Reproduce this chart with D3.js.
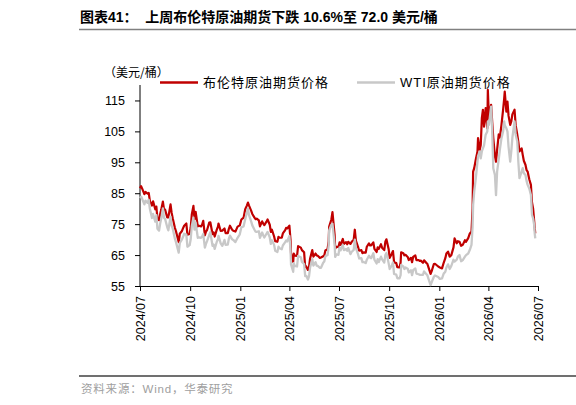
<!DOCTYPE html>
<html>
<head>
<meta charset="utf-8">
<script src="https://cdn.jsdelivr.net/npm/d3@7"></script>
<style>
  body { margin: 0; background: #fff; }
  svg { display: block; }
</style>
</head>
<body>
<div id="chart"></div>
<script>
// one line per month
const dates = [
  '2024-07-01','2024-07-03','2024-07-05','2024-07-09','2024-07-11','2024-07-15','2024-07-17','2024-07-19','2024-07-23','2024-07-25','2024-07-29','2024-07-31',
  '2024-08-02','2024-08-05','2024-08-07','2024-08-09','2024-08-12','2024-08-14','2024-08-16','2024-08-20','2024-08-22','2024-08-26','2024-08-28','2024-08-30',
  '2024-09-03','2024-09-05','2024-09-10','2024-09-12','2024-09-16','2024-09-18','2024-09-20','2024-09-24','2024-09-26','2024-09-30',
  '2024-10-02','2024-10-04','2024-10-07','2024-10-09','2024-10-11','2024-10-15','2024-10-17','2024-10-21','2024-10-23','2024-10-25','2024-10-28','2024-10-30',
  '2024-11-01','2024-11-05','2024-11-07','2024-11-11','2024-11-13','2024-11-15','2024-11-19','2024-11-21','2024-11-22','2024-11-26','2024-11-29',
  '2024-12-03','2024-12-05','2024-12-09','2024-12-11','2024-12-13','2024-12-17','2024-12-19','2024-12-23','2024-12-27','2024-12-31',
  '2025-01-03','2025-01-07','2025-01-10','2025-01-13','2025-01-15','2025-01-17','2025-01-21','2025-01-23','2025-01-27','2025-01-29','2025-01-31',
  '2025-02-04','2025-02-06','2025-02-10','2025-02-12','2025-02-14','2025-02-18','2025-02-20','2025-02-24','2025-02-26','2025-02-28',
  '2025-03-04','2025-03-06','2025-03-10','2025-03-12','2025-03-14','2025-03-18','2025-03-20','2025-03-24','2025-03-26','2025-03-28',
  '2025-04-01','2025-04-03','2025-04-04','2025-04-08','2025-04-09','2025-04-11','2025-04-15','2025-04-17','2025-04-22','2025-04-24','2025-04-28','2025-04-30',
  '2025-05-02','2025-05-05','2025-05-07','2025-05-09','2025-05-13','2025-05-15','2025-05-19','2025-05-21','2025-05-23','2025-05-27','2025-05-29',
  '2025-06-02','2025-06-04','2025-06-06','2025-06-10','2025-06-12','2025-06-13','2025-06-17','2025-06-19','2025-06-23','2025-06-24','2025-06-26','2025-06-30',
  '2025-07-02','2025-07-04','2025-07-08','2025-07-10','2025-07-14','2025-07-16','2025-07-18','2025-07-22','2025-07-24','2025-07-28','2025-07-30',
  '2025-08-01','2025-08-05','2025-08-07','2025-08-11','2025-08-13','2025-08-15','2025-08-19','2025-08-21','2025-08-25','2025-08-27','2025-08-29',
  '2025-09-02','2025-09-04','2025-09-08','2025-09-10','2025-09-12','2025-09-16','2025-09-18','2025-09-22','2025-09-24','2025-09-26','2025-09-30',
  '2025-10-02','2025-10-06','2025-10-08','2025-10-10','2025-10-14','2025-10-16','2025-10-20','2025-10-22','2025-10-23','2025-10-27','2025-10-29','2025-10-31',
  '2025-11-04','2025-11-06','2025-11-10','2025-11-12','2025-11-14','2025-11-18','2025-11-20','2025-11-24','2025-11-26','2025-11-28',
  '2025-12-02','2025-12-04','2025-12-08','2025-12-10','2025-12-12','2025-12-16','2025-12-18','2025-12-22','2025-12-24','2025-12-30',
  '2026-01-02','2026-01-06','2026-01-09','2026-01-12','2026-01-14','2026-01-17','2026-01-20','2026-01-23','2026-01-27','2026-01-29',
  '2026-02-02','2026-02-04','2026-02-07','2026-02-10','2026-02-13','2026-02-17','2026-02-19','2026-02-23','2026-02-26',
  '2026-03-01','2026-03-03','2026-03-04','2026-03-06','2026-03-09','2026-03-12','2026-03-13','2026-03-16','2026-03-18','2026-03-20','2026-03-22','2026-03-24','2026-03-25','2026-03-27','2026-03-30','2026-03-31',
  '2026-04-02','2026-04-06','2026-04-08','2026-04-10','2026-04-13','2026-04-15','2026-04-17','2026-04-20','2026-04-22','2026-04-25','2026-04-28','2026-04-30',
  '2026-05-01','2026-05-04','2026-05-06','2026-05-08','2026-05-11','2026-05-13','2026-05-15','2026-05-19','2026-05-21','2026-05-24','2026-05-26','2026-05-28',
  '2026-06-01','2026-06-03','2026-06-05','2026-06-08','2026-06-10','2026-06-12','2026-06-15','2026-06-18','2026-06-20','2026-06-22','2026-06-24','2026-06-25','2026-06-26'
];

const brent = [
  86.6, 87.3, 86.5, 84.7, 85.4, 84.9, 85.1, 82.6, 81.0, 82.4, 79.8, 80.7,
  76.8, 76.3, 78.3, 79.7, 82.3, 79.8, 79.7, 77.2, 77.2, 81.4, 78.7, 76.9,
  73.8, 72.7, 69.2, 71.9, 72.8, 73.7, 74.5, 75.2, 71.6, 71.8,
  73.9, 78.1, 80.9, 76.6, 79.0, 74.3, 74.5, 74.3, 74.9, 76.1, 71.4, 72.6,
  73.1, 75.5, 75.6, 71.8, 72.3, 71.0, 73.3, 74.2, 75.2, 72.8, 72.9,
  73.6, 72.1, 72.1, 73.5, 74.5, 73.2, 72.9, 72.6, 74.2, 74.6,
  76.5, 77.1, 79.8, 81.0, 82.0, 81.0, 79.3, 78.3, 77.1, 76.6, 76.8,
  76.2, 74.3, 75.9, 75.2, 74.7, 75.8, 76.5, 74.8, 72.5, 73.2,
  71.0, 69.5, 69.3, 70.9, 70.6, 70.6, 72.0, 73.0, 73.8, 73.6,
  74.5, 70.1, 65.6, 62.8, 65.5, 64.8, 64.7, 67.9, 67.4, 66.6, 65.9, 61.1,
  61.3, 60.2, 61.1, 63.9, 66.6, 64.5, 65.5, 64.9, 64.8, 64.1, 64.2,
  64.6, 64.9, 66.5, 66.9, 69.4, 74.2, 76.5, 78.9, 71.5, 67.1, 67.7, 67.6,
  69.1, 68.3, 70.2, 68.6, 69.2, 68.5, 69.3, 68.6, 69.2, 70.0, 73.2,
  69.7, 67.6, 66.4, 66.6, 65.6, 65.9, 65.8, 67.7, 68.8, 68.1, 68.1,
  69.1, 67.0, 66.0, 67.5, 67.0, 68.5, 67.4, 66.6, 69.3, 70.1, 67.0,
  64.1, 65.5, 66.3, 62.7, 62.4, 61.1, 61.0, 62.6, 65.9, 65.6, 64.9, 65.1,
  64.4, 63.4, 64.1, 62.7, 64.4, 64.9, 63.4, 63.4, 63.1, 63.2,
  62.5, 63.3, 62.5, 62.2, 61.1, 58.9, 59.8, 62.1, 62.2, 61.3,
  61.0, 60.7, 62.5, 64.0, 65.5, 66.1, 64.5, 65.0, 67.5, 70.4,
  68.8, 69.5, 69.3, 68.0, 68.3, 69.8, 69.3, 70.5, 72.0,
  72.6, 80.0, 92.0, 93.1, 96.0, 98.5, 102.8, 99.0, 100.6, 109.3, 112.0, 106.5, 108.2, 112.5, 106.0, 118.4,
  109.3, 113.6, 108.0, 102.8, 97.0, 95.2, 99.0, 104.0, 103.0, 107.1, 112.0, 115.7,
  117.9, 111.4, 114.6, 110.0, 107.1, 108.2, 110.5, 112.0, 107.0, 103.9, 101.5, 98.5,
  99.5, 97.4, 95.5, 94.2, 92.5, 92.0, 89.5, 87.7, 82.0, 80.1, 76.0, 73.7, 72.0
];

const wti = [
  83.4, 83.9, 83.2, 81.4, 82.6, 81.9, 82.9, 80.1, 77.0, 78.3, 75.8, 77.9,
  73.5, 72.9, 75.2, 76.8, 80.1, 77.0, 76.7, 74.0, 73.0, 77.4, 74.5, 73.6,
  70.3, 69.2, 65.8, 68.9, 70.1, 70.9, 71.9, 71.6, 67.7, 68.2,
  70.1, 74.4, 77.1, 73.2, 75.6, 70.6, 70.7, 70.6, 71.0, 71.8, 67.4, 68.6,
  69.5, 71.5, 72.4, 68.0, 68.4, 67.0, 69.4, 70.1, 71.2, 68.8, 68.0,
  69.9, 68.3, 68.4, 70.3, 71.3, 70.1, 69.9, 69.2, 70.6, 71.7,
  74.0, 74.3, 76.6, 78.8, 80.0, 77.9, 75.8, 74.6, 73.2, 72.6, 72.5,
  72.7, 70.6, 72.3, 71.4, 70.7, 71.9, 72.5, 70.7, 68.6, 69.8,
  68.3, 66.4, 66.0, 67.7, 67.2, 66.9, 68.1, 69.1, 69.7, 69.4,
  71.2, 66.9, 62.0, 59.6, 62.4, 61.5, 61.3, 64.7, 64.3, 62.8, 62.1, 58.2,
  58.3, 57.1, 58.1, 61.0, 63.7, 61.6, 62.7, 61.6, 61.5, 60.9, 60.9,
  62.5, 62.9, 64.6, 65.0, 68.0, 73.0, 74.8, 75.1, 68.5, 64.4, 65.2, 65.1,
  67.5, 66.5, 68.3, 66.6, 67.0, 66.4, 67.3, 65.3, 66.0, 66.7, 70.0,
  67.3, 65.2, 63.9, 64.0, 62.7, 62.8, 62.4, 63.5, 64.8, 64.2, 64.0,
  65.6, 63.5, 62.3, 63.7, 62.7, 64.5, 63.6, 62.6, 65.0, 65.7, 62.4,
  60.5, 61.7, 62.6, 58.9, 58.7, 57.5, 57.5, 58.5, 61.8, 61.3, 60.5, 61.0,
  60.6, 59.4, 60.1, 58.5, 60.1, 60.7, 59.0, 58.8, 58.6, 58.6,
  58.6, 59.7, 58.9, 58.5, 57.4, 55.3, 56.2, 58.0, 58.4, 57.9,
  57.3, 57.5, 59.0, 59.6, 61.0, 62.0, 60.5, 61.5, 63.5, 62.9,
  63.5, 64.5, 65.0, 63.0, 63.4, 64.5, 65.0, 65.5, 66.7,
  68.3, 74.0, 81.2, 85.5, 90.0, 95.2, 97.0, 98.5, 96.3, 98.5, 99.5, 100.5, 101.7, 103.9, 105.0, 108.2,
  107.1, 113.0, 104.9, 93.1, 90.9, 84.4, 92.0, 96.0, 99.0, 102.8, 105.0, 108.2,
  107.0, 106.0, 104.9, 100.0, 95.2, 98.5, 103.0, 108.2, 104.0, 101.7, 95.0, 89.9,
  92.0, 93.1, 91.5, 90.9, 89.0, 87.7, 86.5, 84.4, 78.0, 76.9, 74.7, 72.0, 70.4
];

const yTicks = [55, 65, 75, 85, 95, 105, 115];
const xTicks = ['2024-07-01','2024-10-01','2025-01-01','2025-04-01','2025-07-01','2025-10-01','2026-01-01','2026-04-01','2026-07-01'];
const seriesNames = ['布伦特原油期货价格', 'WTI原油期货价格'];

const W = 576, H = 405;
const plot = { left: 140, right: 538, top: 85, bottom: 286 };
const latin = '"Liberation Sans", Arial, "Noto Sans CJK SC", sans-serif';
const cjk = '"Noto Sans CJK SC", "Liberation Sans", sans-serif';

if (brent.length !== dates.length || wti.length !== dates.length) {
  console.warn('length mismatch', dates.length, brent.length, wti.length);
}

const parse = d3.timeParse('%Y-%m-%d');
const rows = dates.map((d, i) => ({ date: parse(d), brent: brent[i], wti: wti[i] }));

const x = d3.scaleTime()
  .domain([parse('2024-07-01'), parse('2026-07-01')])
  .range([plot.left, plot.right]);

const y = d3.scaleLinear()
  .domain([55, 120])
  .range([plot.bottom, plot.top]);

const svg = d3.select('#chart').append('svg')
  .attr('width', W).attr('height', H);

// title + rule
svg.append('text')
  .attr('x', 80).attr('y', 22)
  .attr('font-family', latin)
  .attr('font-size', 14).attr('font-weight', 'bold')
  .attr('fill', '#000')
  .style('white-space', 'pre')
  .text('图表41：  上周布伦特原油期货下跌 10.6%至 72.0 美元/桶');

svg.append('line')
  .attr('x1', 79).attr('x2', 576).attr('y1', 29.5).attr('y2', 29.5)
  .attr('stroke', '#808080').attr('stroke-width', 1.5);

// unit label
svg.append('text')
  .attr('x', 104).attr('y', 77)
  .attr('font-family', cjk).attr('font-size', 12)
  .attr('fill', '#000')
  .text('（美元/桶）');

// legend
const legend = [
  { name: seriesNames[0], color: '#C00000', x: 160, w: 38, width: 2.5 },
  { name: seriesNames[1], color: '#C8C8C8', x: 357, w: 38, width: 2.5 }
];
legend.forEach((l) => {
  svg.append('line')
    .attr('x1', l.x).attr('x2', l.x + l.w).attr('y1', 82.5).attr('y2', 82.5)
    .attr('stroke', l.color).attr('stroke-width', l.width);
  svg.append('text')
    .attr('x', l.x + l.w + 5).attr('y', 87)
    .attr('font-family', latin).attr('font-size', 13)
    .attr('letter-spacing', 1)
    .attr('fill', '#000')
    .text(l.name);
});

// axes
const yAxis = svg.append('g')
  .attr('transform', `translate(${plot.left},0)`)
  .call(d3.axisLeft(y).tickValues(yTicks).tickSize(5).tickPadding(10).tickSizeOuter(0));

const xAxis = svg.append('g')
  .attr('transform', `translate(0,${plot.bottom})`)
  .call(d3.axisBottom(x).tickValues(xTicks.map(parse)).tickFormat(d3.timeFormat('%Y/%m')).tickSize(5).tickSizeOuter(0));

[yAxis, xAxis].forEach((a) => {
  a.select('.domain').attr('stroke', '#000');
  a.selectAll('.tick line').attr('stroke', '#000');
  a.selectAll('.tick text')
    .attr('font-family', latin)
    .attr('font-size', 12.5)
    .attr('fill', '#000');
});

// y axis line runs up to the top of the plot
yAxis.select('.domain').attr('d', `M0,${plot.bottom}V${plot.top}`);

xAxis.selectAll('.tick text')
  .attr('transform', 'rotate(-90)')
  .attr('text-anchor', 'end')
  .attr('x', -10)
  .attr('y', 0)
  .attr('dy', '0.35em');

// lines: brent first, wti drawn over it
const brentLine = d3.line().x((d) => x(d.date)).y((d) => y(d.brent));
const wtiLine = d3.line().x((d) => x(d.date)).y((d) => y(d.wti));

svg.append('path')
  .datum(rows)
  .attr('d', brentLine)
  .attr('fill', 'none')
  .attr('stroke', '#C00000')
  .attr('stroke-width', 2.2)
  .attr('stroke-linejoin', 'round');

svg.append('path')
  .datum(rows)
  .attr('d', wtiLine)
  .attr('fill', 'none')
  .attr('stroke', '#C8C8C8')
  .attr('stroke-width', 2.3)
  .attr('stroke-linejoin', 'round');

// source rule + note
svg.append('line')
  .attr('x1', 79).attr('x2', 576).attr('y1', 376).attr('y2', 376)
  .attr('stroke', '#404040').attr('stroke-width', 1.5);

svg.append('text')
  .attr('x', 81).attr('y', 393)
  .attr('font-family', latin).attr('font-size', 11.5)
  .attr('letter-spacing', 0.8)
  .attr('fill', '#a0a0a0')
  .text('资料来源：Wind，华泰研究');
</script>
</body>
</html>
